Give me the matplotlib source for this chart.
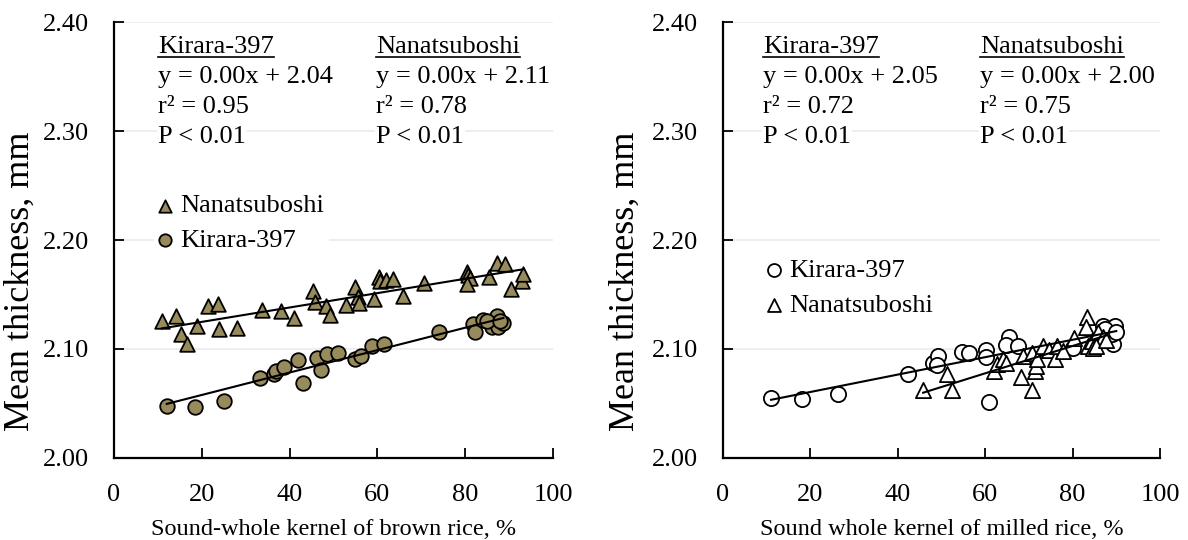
import numpy as np
import matplotlib.pyplot as plt
from matplotlib.lines import Line2D

plt.rcParams['font.family'] = ['Liberation Serif', 'DejaVu Serif']

# brown rice: sound-whole kernel (%) vs mean thickness (mm)
brown_nana_x = [10.9, 14.1, 15.2, 16.7, 18.8, 21.5, 23.6, 23.9, 27.9, 33.8, 38.1, 41.0,
                45.4, 45.8, 48.2, 49.2, 52.8, 54.9, 55.5, 55.9, 59.2, 60.4, 60.6, 61.9,
                63.6, 65.9, 70.7, 80.3, 80.7, 81.1, 80.3, 85.5, 87.2, 89.1, 90.4, 92.9, 93.2]
brown_nana_y = [2.126, 2.130, 2.114, 2.105, 2.121, 2.139, 2.141, 2.118, 2.119, 2.136, 2.135, 2.128,
                2.153, 2.143, 2.139, 2.131, 2.140, 2.157, 2.148, 2.142, 2.146, 2.166, 2.162, 2.163,
                2.164, 2.149, 2.161, 2.171, 2.168, 2.165, 2.160, 2.166, 2.179, 2.178, 2.155, 2.162, 2.169]
brown_kir_x = [12.0, 18.5, 25.1, 33.3, 36.4, 36.8, 38.8, 42.0, 43.0, 46.2, 47.1, 48.4, 51.1,
               54.9, 56.2, 58.7, 61.5, 74.1, 81.7, 82.2, 84.1, 86.0, 87.2, 87.5, 88.7, 84.9, 88.0]
brown_kir_y = [2.048, 2.047, 2.052, 2.073, 2.077, 2.080, 2.083, 2.090, 2.069, 2.092, 2.081, 2.095, 2.096,
               2.091, 2.094, 2.103, 2.105, 2.116, 2.123, 2.116, 2.127, 2.120, 2.130, 2.120, 2.124, 2.126, 2.126]

# milled rice
milled_kir_x = [11.0, 18.0, 26.4, 42.3, 48.1, 49.1, 48.9, 54.6, 56.4, 60.3, 60.3, 60.9,
                65.5, 64.8, 67.6, 80.0, 86.9, 89.7, 89.3, 89.0, 87.4, 86.3, 90.0]
milled_kir_y = [2.055, 2.054, 2.059, 2.077, 2.087, 2.094, 2.085, 2.097, 2.096, 2.099, 2.093, 2.051,
                2.111, 2.104, 2.103, 2.101, 2.121, 2.121, 2.105, 2.114, 2.118, 2.108, 2.116]
milled_nana_x = [45.8, 51.3, 52.3, 62.0, 62.6, 64.1, 64.7, 68.3, 68.6, 70.6, 70.6, 71.4, 71.6,
                 71.8, 73.3, 74.7, 76.0, 76.4, 77.9, 80.3, 83.2, 83.1, 83.6, 84.4, 84.7, 85.9,
                 87.0, 85.4, 87.7]
milled_nana_y = [2.062, 2.077, 2.062, 2.080, 2.086, 2.091, 2.087, 2.074, 2.094, 2.096, 2.062, 2.080, 2.084,
                 2.091, 2.103, 2.099, 2.091, 2.103, 2.098, 2.110, 2.129, 2.120, 2.103, 2.107, 2.101, 2.116,
                 2.111, 2.103, 2.108]

stats_left = [("Kirara-397", ["y = 0.00x + 2.04", "r\u00b2 = 0.95", "P < 0.01"]),
              ("Nanatsuboshi", ["y = 0.00x + 2.11", "r\u00b2 = 0.78", "P < 0.01"])]
stats_right = [("Kirara-397", ["y = 0.00x + 2.05", "r\u00b2 = 0.72", "P < 0.01"]),
               ("Nanatsuboshi", ["y = 0.00x + 2.00", "r\u00b2 = 0.75", "P < 0.01"])]

olive = '#978a5b'
FS = 19

fig = plt.figure(figsize=(11.88, 5.4), dpi=100)
ax1 = fig.add_axes([0.096, 0.152, 0.3695, 0.807])
ax2 = fig.add_axes([0.6086, 0.152, 0.3678, 0.807])


def fit_line(ax, x, y):
    x = np.asarray(x)
    k, b = np.polyfit(x, y, 1)
    xs = np.array([x.min(), x.max()])
    ax.plot(xs, k * xs + b, color='black', lw=1.5, zorder=4)


def style(ax, xlabel, ylab_x):
    ax.set_xlim(0, 100)
    ax.set_ylim(2.0, 2.4)
    ax.set_xticks(np.arange(0, 101, 20))
    ax.set_yticks(np.arange(2.0, 2.41, 0.1))
    ax.yaxis.set_major_formatter(plt.FormatStrFormatter('%.2f'))
    for yv in [2.1, 2.2, 2.3, 2.4]:
        ax.axhline(yv, color='#ebebeb', lw=1.2, zorder=0)
    for s in ['top', 'right']:
        ax.spines[s].set_visible(False)
    for s in ['left', 'bottom']:
        ax.spines[s].set_linewidth(1.6)
    ax.tick_params(direction='in', length=7, width=1.3, labelsize=FS)
    ax.tick_params(axis='y', pad=18)
    ax.tick_params(axis='x', pad=19)
    ax.set_xlabel(xlabel, fontsize=17.5, labelpad=9)
    ax.set_ylabel('Mean thickness, mm', fontsize=26)
    ax.yaxis.set_label_coords(ylab_x, 0.406)


def stats_block(ax, x, header, lines):
    y0 = 2.377
    t = ax.text(x, y0, header, fontsize=FS, va='center', ha='left', zorder=5,
                bbox=dict(fc='white', ec='none', pad=1))
    for i, s in enumerate(lines):
        ax.text(x, y0 - 0.0275 * (i + 1), s, fontsize=FS, va='center', ha='left', zorder=5,
                bbox=dict(fc='white', ec='none', pad=1))
    return t


# left panel: brown rice
ax1.scatter(brown_nana_x, brown_nana_y, marker='^', s=110, c=olive, edgecolors='black',
            linewidths=1.3, zorder=3, label='Nanatsuboshi')
ax1.scatter(brown_kir_x, brown_kir_y, marker='o', s=110, c=olive, edgecolors='black',
            linewidths=1.3, zorder=3, label='Kirara-397')
fit_line(ax1, brown_nana_x, brown_nana_y)
fit_line(ax1, brown_kir_x, brown_kir_y)
style(ax1, 'Sound-whole kernel of brown rice, %', -0.175)

# right panel: milled rice
ax2.scatter(milled_kir_x, milled_kir_y, marker='o', s=120, c='white', edgecolors='black',
            linewidths=1.3, zorder=3, label='Kirara-397')
ax2.scatter(milled_nana_x, milled_nana_y, marker='^', s=120, c='white', edgecolors='black',
            linewidths=1.3, zorder=3, label='Nanatsuboshi')
fit_line(ax2, milled_kir_x, milled_kir_y)
fit_line(ax2, milled_nana_x, milled_nana_y)
style(ax2, 'Sound whole kernel of milled rice, %', -0.185)

for ax, anchor in [(ax1, (0.06, 0.648)), (ax2, (0.06, 0.50))]:
    leg = ax.legend(loc='upper left', bbox_to_anchor=anchor, fontsize=FS, frameon=True,
                    handlelength=0.5, handletextpad=0.3, labelspacing=0.42,
                    borderpad=0.2, markerscale=0.85, fancybox=False)
    leg.get_frame().set_facecolor('white')
    leg.get_frame().set_edgecolor('none')
    leg.get_frame().set_alpha(1)
    leg.set_zorder(6)

headers = []
for ax, stats, xs in [(ax1, stats_left, (10.0, 59.7)), (ax2, stats_right, (9.2, 58.8))]:
    for (head, lines), x in zip(stats, xs):
        headers.append(stats_block(ax, x, head, lines))

# underline the cultivar headers
fig.canvas.draw()
inv = fig.transFigure.inverted()
for t in headers:
    bb = t.get_window_extent()
    (x0, y0), (x1, _) = inv.transform([(bb.x0, bb.y0 + 1), (bb.x1, bb.y0)])
    fig.add_artist(Line2D([x0, x1], [y0, y0], color='black', lw=1.2))

fig.savefig('out.png', dpi=100)
